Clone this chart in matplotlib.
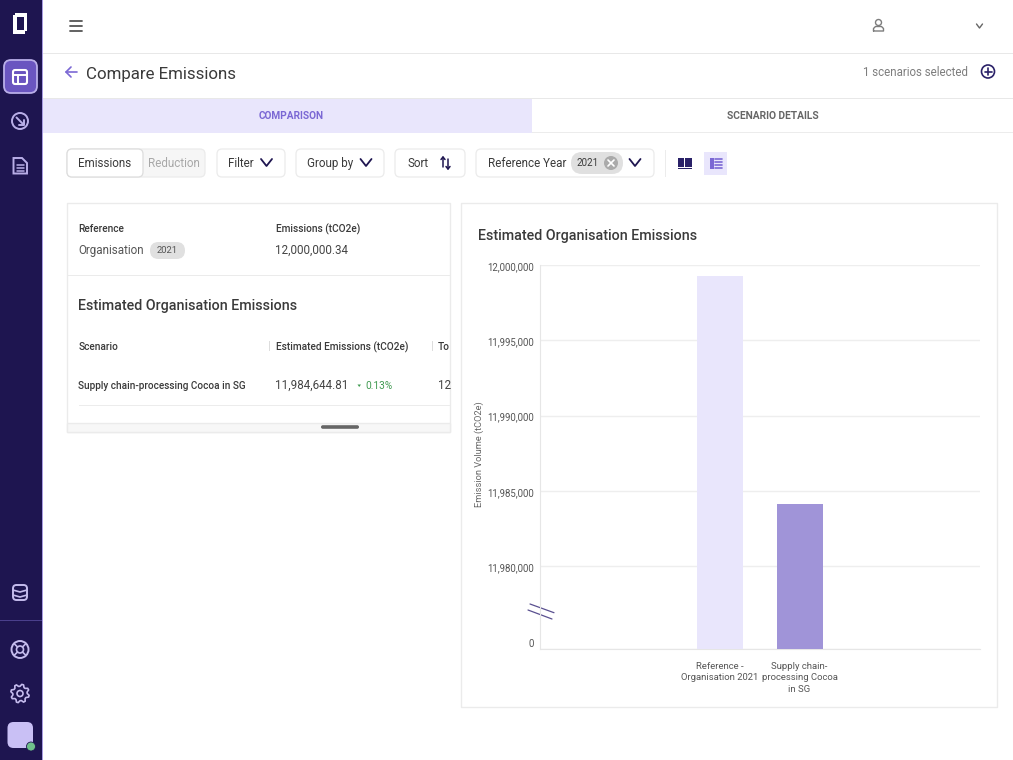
import numpy as np
import matplotlib
matplotlib.use('Agg')
import matplotlib.pyplot as plt
from matplotlib.patches import Rectangle, FancyBboxPatch, Circle, Polygon
from matplotlib.transforms import ScaledTranslation

plt.rcParams['font.family'] = ['Roboto', 'DejaVu Sans']

# chart data
categories = ['Reference -\nOrganisation 2021', 'Supply chain-\nprocessing Cocoa\nin SG']
emissions = [11999270, 11984130]
bar_colors = ['#e9e6fc', '#a094d8']
y_ticks = [0, 11980000, 11985000, 11990000, 11995000, 12000000]
y_tick_labels = ['0', '11,980,000', '11,985,000', '11,990,000', '11,995,000', '12,000,000']

# table text
reference_name = 'Organisation'
reference_year = '2021'
reference_value = '12,000,000.34'
scenario_name = 'Supply chain-processing Cocoa in SG'
scenario_value = '11,984,644.81'
scenario_change = '0.13%'

NAVY = '#1e1550'
PURPLE = '#7b68d4'
LAV = '#e9e6fc'
TXT = '#3a3a3a'
GRAY = '#7d7d7d'
EDGE = '#ebebeb'

fig = plt.figure(figsize=(10.13, 7.6), dpi=100)

# the page is drawn in pixel coordinates
ui = fig.add_axes([0, 0, 1, 1], zorder=0)
ui.set_xlim(0, 1013)
ui.set_ylim(760, 0)
ui.axis('off')


def rect(x0, y0, x1, y1, fc='white', ec='none', lw=1, z=1):
    ui.add_patch(Rectangle((x0, y0), x1 - x0, y1 - y0, fc=fc, ec=ec, lw=lw, zorder=z))


def rbox(x0, y0, x1, y1, r=5, fc='white', ec=EDGE, lw=0.9, z=2):
    ui.add_patch(FancyBboxPatch((x0 + r, y0 + r), x1 - x0 - 2 * r, y1 - y0 - 2 * r,
                                boxstyle='round,pad=%f,rounding_size=%f' % (r, r),
                                fc=fc, ec=ec, lw=lw, zorder=z))


def line(xs, ys, c=EDGE, lw=0.9, z=3):
    ui.plot(xs, ys, color=c, lw=lw, zorder=z, solid_capstyle='round', solid_joinstyle='round')


def circ(x, y, r, fc='none', ec='none', lw=1.2, z=4):
    ui.add_patch(Circle((x, y), r, fc=fc, ec=ec, lw=lw, zorder=z))


def txt(x, y, s, size=8.4, c=TXT, ha='left', weight='normal', z=5):
    # y is the middle of the capitals, so mixed strings share one baseline
    ui.text(x, y + 0.49 * size, s, fontsize=size, color=c, ha=ha, va='baseline', fontweight=weight, zorder=z)


def chevron(x, y, w=5.5, h=3.5, c=NAVY, lw=1.3):
    line([x - w, x, x + w], [y - h, y + h, y - h], c=c, lw=lw, z=6)


# sidebar
rect(0, 0, 42, 760, fc=NAVY)
rect(42, 0, 43, 760, fc='#a79be0')
rect(0, 620, 42, 621, fc='#4a3f8c')

# logo
rect(13, 15, 25, 33.5, fc='white', z=3)
rect(15, 12.7, 27, 31, fc='white', z=3)
rect(16.7, 16.7, 24, 30, fc=NAVY, z=4)

# selected layout button
rbox(4, 60, 37, 93, r=7, fc='#6a55c0', ec='#b9aee8', lw=1.3, z=3)
rbox(13, 70, 27, 84, r=2, fc='none', ec='white', lw=1.5, z=4)
line([13, 27], [74.5, 74.5], c='white', lw=1.4, z=5)
line([18, 18], [74.5, 84], c='white', lw=1.4, z=5)

ICON = '#b9aee8'
circ(20, 121, 8, ec=ICON, lw=1.4)
line([16.5, 23.5], [117.5, 124.5], c=ICON, lw=1.4, z=5)
line([23.5, 23.5, 18.5], [119.5, 124.5, 124.5], c=ICON, lw=1.4, z=5)

ui.add_patch(Polygon([[13.5, 158], [22, 158], [27, 163], [27, 173.5], [13.5, 173.5]],
                     closed=True, fc='none', ec=ICON, lw=1.4, zorder=4))
for yy in [165, 168, 171]:
    line([16.5, 24], [yy, yy], c=ICON, lw=1.1, z=5)

# database icon
rbox(13, 585, 27, 600, r=3.5, fc='none', ec='#c5bcee', lw=1.4, z=4)
line([13, 20, 27], [590, 592, 590], c='#c5bcee', lw=1.2, z=5)
line([13, 20, 27], [595, 597, 595], c='#c5bcee', lw=1.2, z=5)

# help icon
circ(20, 649.5, 8.5, ec='#c5bcee', lw=1.4)
circ(20, 649.5, 3.5, ec='#c5bcee', lw=1.2)
for dx, dy in [(1, 1), (1, -1), (-1, 1), (-1, -1)]:
    line([20 + 2.5 * dx, 20 + 6 * dx], [649.5 + 2.5 * dy, 649.5 + 6 * dy], c='#c5bcee', lw=1.2, z=5)

# settings icon
circ(20, 693.5, 3, ec='#c5bcee', lw=1.2)
gear_a = np.linspace(0, 2 * np.pi, 33)[:-1] + np.pi / 16
gear_r = np.tile([9.3, 9.3, 7.2, 7.2], 8)
ui.add_patch(Polygon(np.c_[20 + gear_r * np.cos(gear_a), 693.5 + gear_r * np.sin(gear_a)],
                     closed=True, fc='none', ec='#c5bcee', lw=1.2, joinstyle='round', zorder=4))

# avatar
rbox(7.5, 722, 33, 748, r=6, fc='#c9c0f5', ec='none', z=4)
circ(31, 746.5, 4.5, fc='#6fc08a', ec=NAVY, lw=0.6, z=5)

# header
rect(43, 52.5, 1013, 54, fc='#e8e8e8')
for yy in [20.5, 25.5, 30.5]:
    line([69.5, 81.5], [yy, yy], c='#555555', lw=1.3)
circ(878.5, 22.5, 3, ec=GRAY, lw=1)
line([873.5, 873.5, 875.5, 881.5, 883.5, 883.5, 873.5], [31, 28.5, 26.5, 26.5, 28.5, 31, 31], c=GRAY, lw=1)
chevron(979.5, 26, w=3, h=2, c='#666666', lw=1)

# title row
line([66, 77], [72, 72], c=PURPLE, lw=1.2)
line([71, 66, 71], [67, 72, 77], c=PURPLE, lw=1.2)
txt(86, 73, 'Compare Emissions', size=12.2)
txt(968, 71.5, '1 scenarios selected', size=8.3, c=GRAY, ha='right')
circ(988, 71.5, 6.5, ec='#2a2168', lw=1.2)
line([984.5, 991.5], [71.5, 71.5], c='#2a2168', lw=1.2, z=5)
line([988, 988], [68, 75], c='#2a2168', lw=1.2, z=5)

# tabs
rect(43, 98, 532, 132.5, fc=LAV)
rect(43, 97.5, 1013, 98.5, fc='#e8e8e8')
rect(532, 132, 1013, 133, fc='#ececec')
txt(291, 115.5, 'COMPARISON', size=7.3, c=PURPLE, ha='center', weight='bold')
txt(772.5, 115.5, 'SCENARIO DETAILS', size=7.4, c='#666666', ha='center', weight='bold')

# filter row
rbox(67, 149, 205, 177, fc='#f6f6f6')
rbox(67, 149, 143, 177, fc='white', ec='#dddddd', z=3)
txt(105, 163, 'Emissions', ha='center')
txt(174, 163, 'Reduction', c='#a8a8a8', ha='center')
rbox(217, 149, 285, 177)
txt(228, 163, 'Filter')
chevron(266.5, 162.5)
rbox(296, 149, 384, 177)
txt(307, 163, 'Group by')
chevron(366, 162.5)
rbox(395, 149, 465, 177)
txt(407, 163, 'Sort')
line([443, 443], [157, 167], c=NAVY, lw=1.1)
line([441, 443, 445], [159.5, 157, 159.5], c=NAVY, lw=1.1)
line([448, 448], [159, 169], c=NAVY, lw=1.1)
line([446, 448, 450], [166.5, 169, 166.5], c=NAVY, lw=1.1)
rbox(476, 149, 654, 177)
txt(487.5, 163, 'Reference Year')
rbox(571, 152, 623, 174, r=11, fc='#e0e0e0', ec='none', z=3)
txt(588, 163, reference_year, size=7, ha='center')
circ(611, 163, 7, fc='#aaaaaa')
line([608, 614], [160, 166], c='white', lw=1.2, z=5)
line([608, 614], [166, 160], c='white', lw=1.2, z=5)
chevron(635, 162.5)
rect(664.5, 150, 665.5, 177, fc='#ececec')
rect(678, 158, 684, 167, fc='#2a2168')
rect(685, 158, 692, 167, fc='#2a2168')
rect(678, 167.5, 692, 169, fc='#2a2168')
rect(704, 152, 727, 174.5, fc=LAV)
rect(709.5, 158, 713.5, 168.5, fc=PURPLE, z=3)
for yy in [158.5, 161.5, 164.5, 167.5]:
    line([715, 722], [yy, yy], c=PURPLE, lw=1.2)

# left card
rect(67, 203, 450, 431.5, fc='white', ec=EDGE)
rect(68, 275, 450, 276, fc=EDGE, z=2)
txt(78.5, 228.5, 'Reference', size=7.3, weight='medium')
txt(275.5, 228.5, 'Emissions (tCO2e)', size=7.3, weight='medium')
txt(78.5, 250, reference_name, size=8.4, c='#555555')
rbox(150, 242, 185, 259, r=8.5, fc='#e0e0e0', ec='none')
txt(167.5, 250, reference_year, size=6.8, c='#555555', ha='center')
txt(275.5, 250, reference_value, size=8.4, c='#444444')
txt(78.5, 304.5, 'Estimated Organisation Emissions', size=10.3, weight='medium')
txt(78.5, 346.5, 'Scenario', size=7.3, weight='medium')
rect(269, 341, 270, 351, fc='#dddddd')
txt(275.5, 346.5, 'Estimated Emissions (tCO2e)', size=7.3, weight='medium')
rect(431.5, 341, 432.5, 351, fc='#dddddd')
txt(438, 346.5, 'To', size=7.3, weight='medium')
txt(78.5, 385.5, scenario_name, size=7.2, weight='medium')
txt(275.5, 385, scenario_value, size=8.4, c='#444444')
ui.add_patch(Polygon([[357.5, 384.5], [361, 384.5], [359.2, 387]], closed=True, fc='#3f9a50', ec='none', zorder=5))
txt(365, 385.5, scenario_change, size=7.3, c='#3f9a50')
txt(438, 385, '12', size=8.4, c='#444444')
rect(79, 405, 450, 406, fc='#ececec')
rect(67, 422.5, 450, 431.5, fc='#f7f7f7', ec=EDGE, z=2)
rbox(321, 425.2, 359, 428.8, r=1.8, fc='#666666', ec='none', z=3)

# right card
rect(461, 203, 997, 707, fc='white', ec=EDGE)
txt(478, 234.5, 'Estimated Organisation Emissions', size=10.3, weight='medium')
ui.text(479, 454, 'Emission Volume (tCO2e)', fontsize=6.7, color='#666666', rotation=90,
        ha='center', va='center', zorder=5)


# broken y axis: the stretch from 0 to the first real tick is squeezed
def fwd(y):
    y = np.asarray(y, dtype=float)
    return np.where(y < 11980000, y / 11980000 * 5440, y - 11980000 + 5440)


def inv(v):
    v = np.asarray(v, dtype=float)
    return np.where(v < 5440, v / 5440 * 11980000, v + 11980000 - 5440)


ax = fig.add_axes([540 / 1013, 1 - 648.5 / 760, 439.5 / 1013, 383.5 / 760], zorder=2)
ax.patch.set_alpha(0)
ax.set_yscale('function', functions=(fwd, inv))
ax.bar(range(len(categories)), emissions, width=0.575, color=bar_colors, zorder=3)
ax.set_xlim(-2.244, 3.25)
ax.set_ylim(0, 12000000)
ax.set_xticks(range(len(categories)))
ax.set_xticklabels(categories, fontsize=6.8, color='#555555', linespacing=1.4)
ax.set_yticks(y_ticks)
ax.set_yticklabels(y_tick_labels, fontsize=6.9, color='#555555')
ax.minorticks_off()
ax.tick_params(axis='both', length=0)
ax.tick_params(axis='x', pad=9.5)
ax.tick_params(axis='y', pad=4.5)
ax.grid(axis='y', color='#eeeeee', lw=1, zorder=0)
for s in ['top', 'right']:
    ax.spines[s].set_visible(False)
for s in ['left', 'bottom']:
    ax.spines[s].set_color('#e6e6e6')

# labels sit a little above or below their grid line in the original
for lab, val in zip(ax.get_yticklabels(), y_ticks):
    shift = -5.5 if val == 0 else 0.8
    lab.set_transform(lab.get_transform() + ScaledTranslation(0, -shift / 100, fig.dpi_scale_trans))

# axis break marks
line([530, 554], [604, 612.7], c='#5a5090', lw=0.9, z=6)
line([528, 552], [610, 619], c='#5a5090', lw=0.9, z=6)

fig.savefig('out.png', dpi=100)
